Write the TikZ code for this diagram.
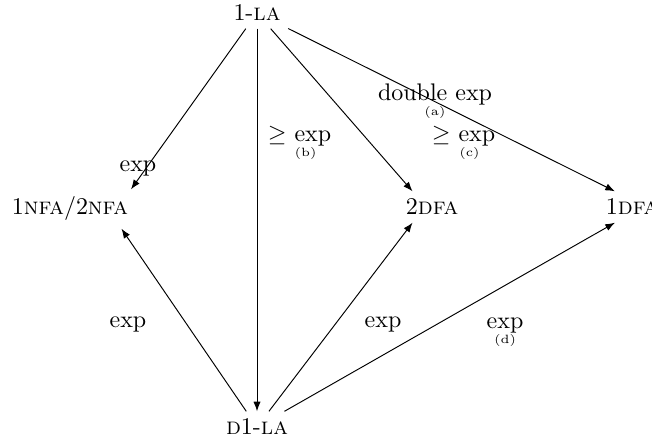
\documentclass[tikz,border=0pt]{standalone}
\usetikzlibrary{arrows.meta}
\begin{document}
\begin{tikzpicture}[x=0.4167pt,y=-0.4167pt,
  state/.style={inner sep=3pt},
  arr/.style={-{Latex[length=4pt,width=3pt]}},
  lbl/.style={inner sep=1pt,align=center}]
\useasboundingbox (0,0) rectangle (652,440);
\node[state] (la) at (257,13) {1-\textsc{la}};
\node[state,anchor=base] (nfa) at (70,215) {1\textsc{nfa}/2\textsc{nfa}};
\node[state,anchor=base] (tdfa) at (432,215) {2\textsc{dfa}};
\node[state,anchor=base] (odfa) at (632,215) {1\textsc{dfa}};
\node[state] (dla) at (257,427) {\textsc{d}1-\textsc{la}};

\draw[arr] (la) -- ([xshift=-2pt]nfa.north east);
\draw[arr] (la) -- (dla);
\draw[arr] (la) -- ([xshift=6pt]tdfa.north west);
\draw[arr] (la) -- ([xshift=7pt]odfa.north west);
\draw[arr] (dla) -- ([xshift=-6pt]nfa.south east);
\draw[arr] (dla) -- ([xshift=6pt]tdfa.south west);
\draw[arr] (dla) -- ([xshift=7pt]odfa.south west);

\node[lbl] (l1) at (138,168) {exp};
\node[lbl,anchor=north west] (l2) at (265,123) {$\geq$ exp\\[-5.5pt]\hspace*{5pt}\tiny(b)};
\node[lbl,anchor=north west] (l3) at (429,123) {$\geq$ exp\\[-5.5pt]\hspace*{5pt}\tiny(c)};
\node[lbl] (l4) at (435,101) {double exp\\[-5.5pt]\tiny(a)};
\node[lbl] (l5) at (128,324) {exp};
\node[lbl] (l6) at (383,324) {exp};
\node[lbl] (l7) at (505,332) {exp\\[-5.5pt]\tiny(d)};
\end{tikzpicture}
\end{document}
